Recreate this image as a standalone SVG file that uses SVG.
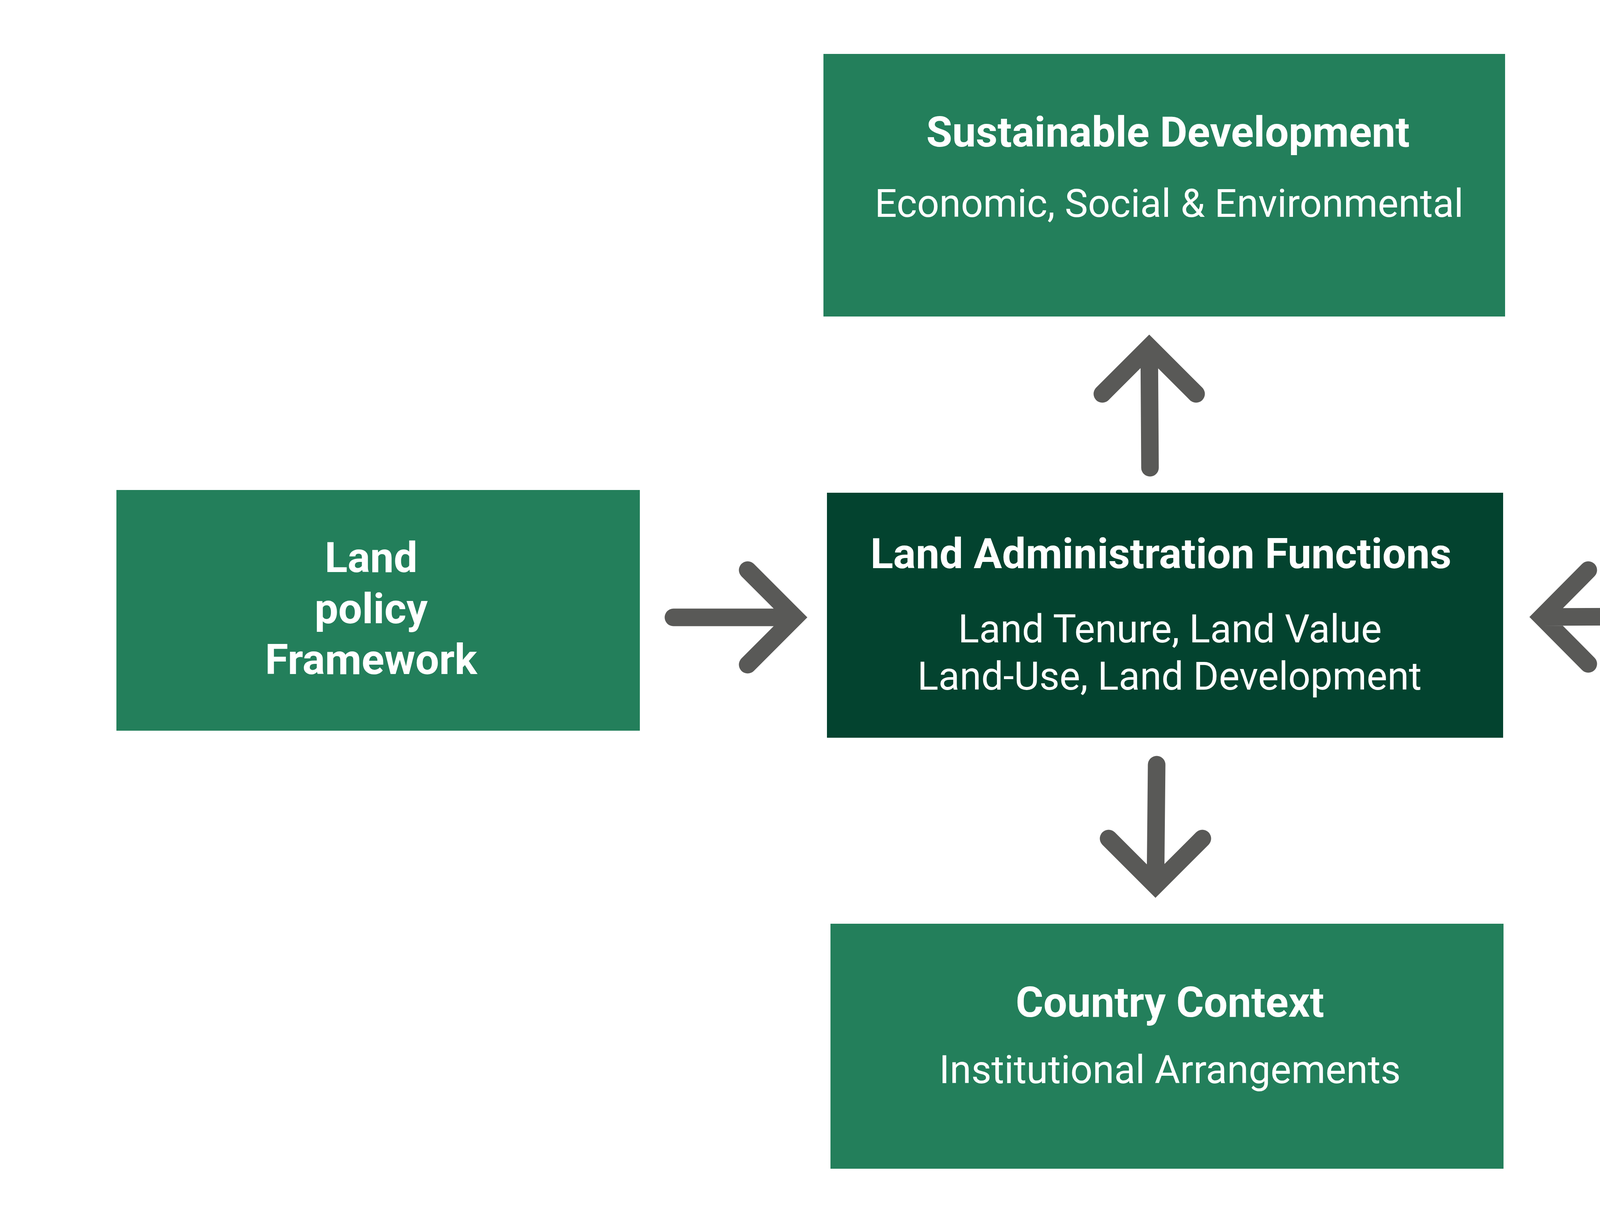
<svg xmlns="http://www.w3.org/2000/svg" width="6005" height="3112" viewBox="0 0 6005 3112">
  <style>
    .box { fill: #237F5B; }
    .core { fill: #03432F; }
    .t { font-family: Roboto, "Liberation Sans", sans-serif; fill: #FFFFFF; text-anchor: middle; }
    .b { font-weight: 700; font-size: 108px; }
    .r { font-weight: 400; font-size: 100px; }
    .arrow { fill: none; stroke: #595957; stroke-width: 45; stroke-linecap: round; stroke-linejoin: miter; stroke-miterlimit: 4; }
  </style>
  <rect width="6005" height="3112" fill="#FFFFFF"/>

  <g id="sustainable-development">
    <rect class="box" x="2108" y="138" width="1745" height="672"/>
    <text class="t b" x="2990" y="375">Sustainable Development</text>
    <text class="t r" x="2993" y="555">Economic, Social &amp; Environmental</text>
  </g>

  <g id="land-administration-functions">
    <rect class="core" x="2117" y="1261" width="1731" height="627"/>
    <text class="t b" x="2972" y="1454">Land Administration Functions</text>
    <text class="t r" x="2995" y="1644">Land Tenure, Land Value</text>
    <text class="t r" x="2994" y="1765">Land-Use, Land Development</text>
  </g>

  <g id="land-policy-framework">
    <rect class="box" x="298" y="1254" width="1340" height="616"/>
    <text class="t b" x="950" y="1464">Land</text>
    <text class="t b" x="950" y="1595">policy</text>
    <text class="t b" x="950" y="1725">Framework</text>
  </g>

  <g id="land-information-infrastructures">
    <rect class="box" x="4342" y="1248" width="1323" height="627"/>
    <text class="t b" x="5033" y="1455">Land</text>
    <text class="t b" x="5033" y="1586">Information</text>
    <text class="t b" x="5033" y="1717">Infrastructures</text>
  </g>

  <g id="country-context">
    <rect class="box" x="2126" y="2364" width="1723" height="627"/>
    <text class="t b" x="2995" y="2602">Country Context</text>
    <text class="t r" x="2995" y="2772">Institutional Arrangements</text>
  </g>

  <g id="connectors">
    <path class="arrow" d="M1724,1580 H2035 M1914,1459 L2035,1580 L1914,1701"/>
    <path class="arrow" d="M4254,1578 L3947,1579 M4066,1459 L3947,1579 L4066,1699"/>
    <path class="arrow" d="M2944,1197 L2942,888 M2822,1008 L2942,888 L3062,1008"/>
    <path class="arrow" d="M2961,1957 L2958,2266 M2838,2146 L2958,2266 L3078,2146"/>
  </g>
</svg>
